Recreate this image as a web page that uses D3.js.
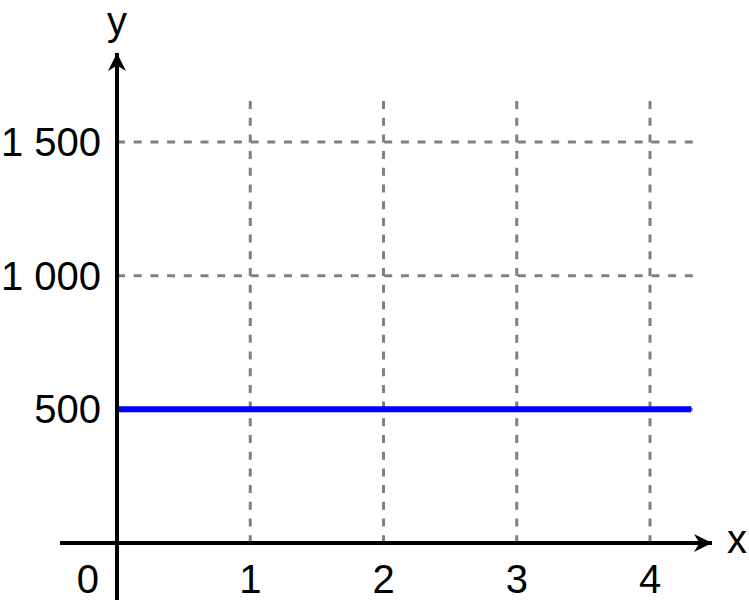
<!DOCTYPE html>
<html><head><meta charset="utf-8">
<script src="https://cdn.jsdelivr.net/npm/d3@7"></script>
<style>body{margin:0;background:#fff}svg{display:block}text{font-family:"Liberation Sans",Arial,sans-serif}</style>
</head><body>
<script>
const xTicks = [1, 2, 3, 4];
const yTicks = [500, 1000, 1500];
const yTickLabels = ["500", "1 000", "1 500"];
const lineX = [0, 4.31];
const lineY = [500, 500];

const W = 749, H = 608;
const svg = d3.select("body").append("svg").attr("width", W).attr("height", H);
const x = d3.scaleLinear().domain([0, 4]).range([117, 650]);
const y = d3.scaleLinear().domain([0, 1500]).range([543, 142]);

const defs = svg.append("defs");
defs.append("marker").attr("id","arr").attr("viewBox","0 0 10 10").attr("refX",10).attr("refY",5)
  .attr("markerWidth",5).attr("markerHeight",4.5).attr("markerUnits","strokeWidth").attr("orient","auto")
  .append("path").attr("d","M0,0 L10,5 L0,10 L3,5 Z").attr("fill","#000");

// grid
svg.append("g").selectAll("line").data(xTicks).join("line")
  .attr("x1", d=>x(d)).attr("x2", d=>x(d)).attr("y1", 101).attr("y2", y(0))
  .attr("stroke","#808080").attr("stroke-width",3).attr("stroke-dasharray","8,8.7");
svg.append("g").selectAll("line").data(yTicks).join("line")
  .attr("x1", x(0)).attr("x2", 693).attr("y1", d=>y(d)).attr("y2", d=>y(d))
  .attr("stroke","#808080").attr("stroke-width",3).attr("stroke-dasharray","8,8.7");

// data line
const pts = lineX.map((v,i)=>[v, lineY[i]]);
svg.append("path").datum(pts).attr("d", d3.line().x(d=>x(d[0])).y(d=>y(d[1])))
  .attr("stroke","#0000ff").attr("stroke-width",6).attr("fill","none");

// axes
svg.append("line").attr("x1",60).attr("x2",712).attr("y1",y(0)).attr("y2",y(0))
  .attr("stroke","#000").attr("stroke-width",4).attr("marker-end","url(#arr)");
svg.append("line").attr("x1",x(0)).attr("x2",x(0)).attr("y1",600).attr("y2",53)
  .attr("stroke","#000").attr("stroke-width",4).attr("marker-end","url(#arr)");

// tick labels
const fs = 40;
svg.append("g").selectAll("text").data(xTicks).join("text")
  .attr("x", d=>x(d)).attr("y", 593).attr("text-anchor","middle").attr("font-size",fs).text(d=>d);
svg.append("g").selectAll("text").data(yTicks).join("text")
  .attr("x", 101).attr("y", d=>y(d)+14).attr("text-anchor","end").attr("font-size",fs)
  .text((d,i)=>yTickLabels[i]);
svg.append("text").attr("x",99).attr("y",593).attr("text-anchor","end").attr("font-size",fs).text("0");
svg.append("text").attr("x",117).attr("y",35).attr("text-anchor","middle").attr("font-size",fs).text("y");
svg.append("text").attr("x",737).attr("y",553).attr("text-anchor","middle").attr("font-size",fs).text("x");
</script>
</body></html>
